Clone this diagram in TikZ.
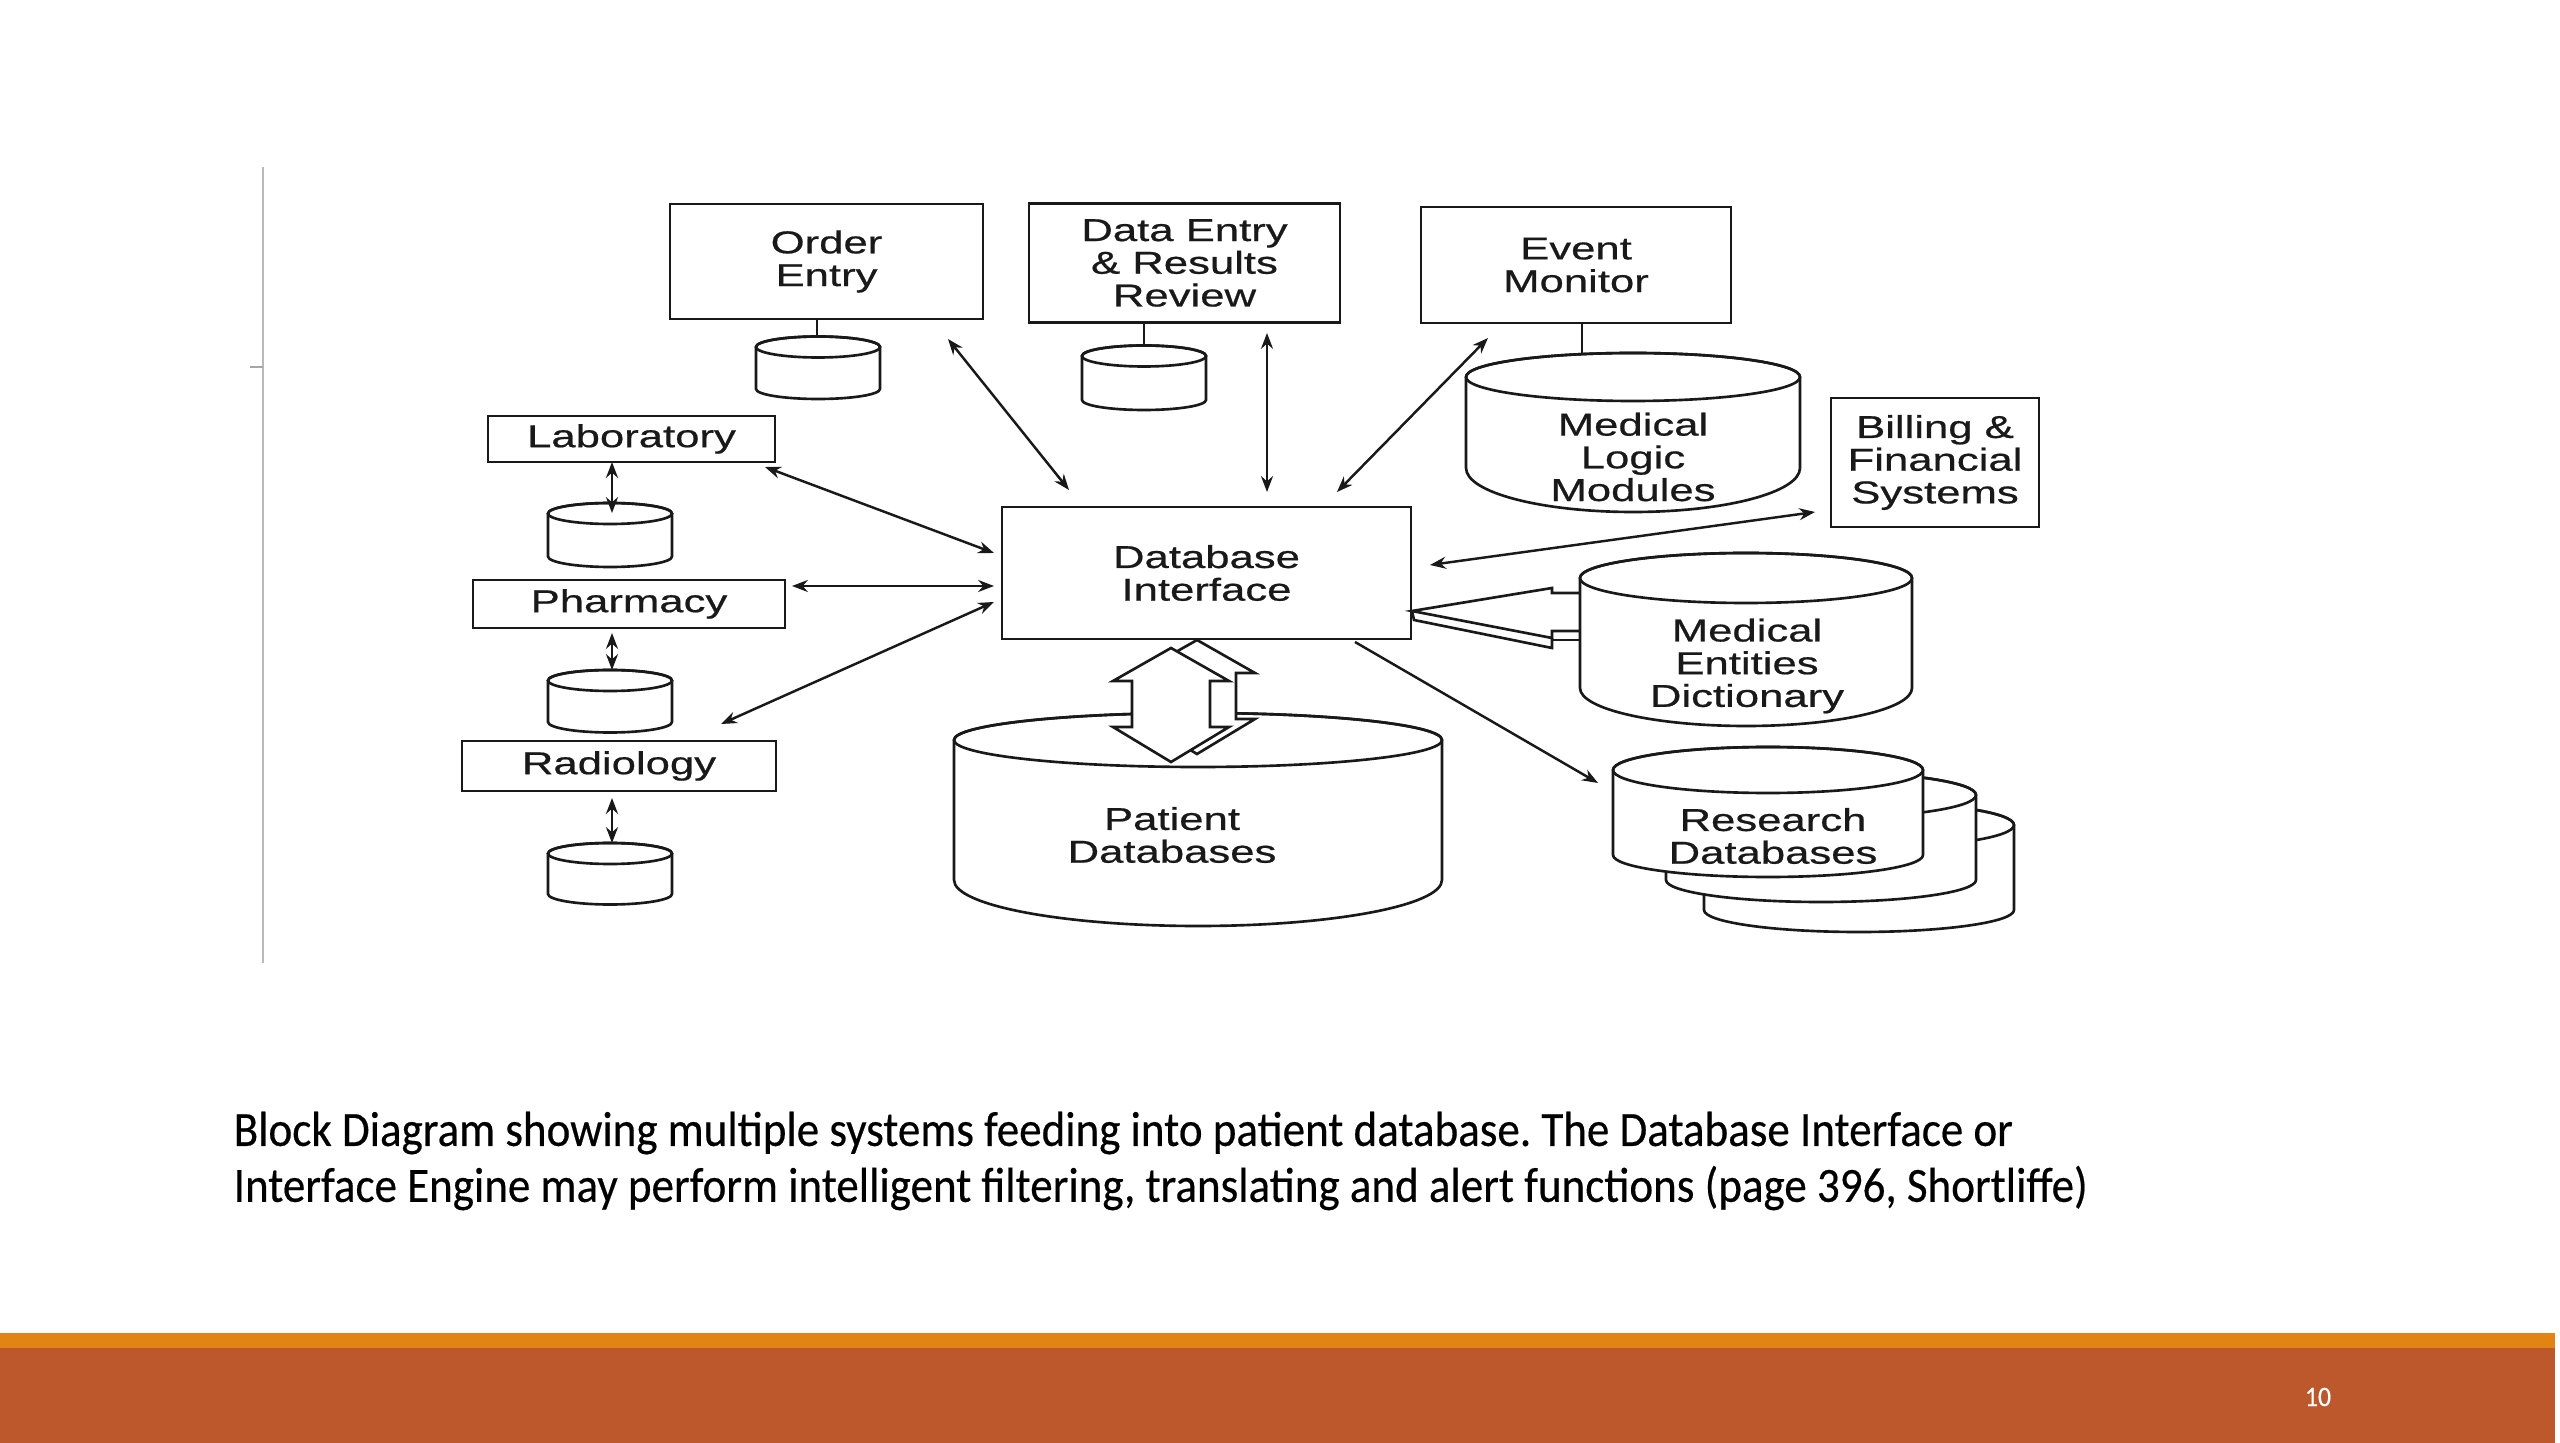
\documentclass[tikz,border=0pt]{standalone}
\usepackage{fontspec}
\setmainfont{Liberation Sans}
\newfontfamily\diagfont[FakeStretch=1.38,FakeBold=0.6]{Liberation Sans}
\newfontfamily\capfont[FakeStretch=0.915,FakeBold=0.4]{Carlito}
\usetikzlibrary{arrows.meta}
\definecolor{barorange}{RGB}{226,131,22}
\definecolor{barrust}{RGB}{189,88,45}
\definecolor{inkc}{RGB}{25,25,25}
% cx, ytop(center of top ellipse, px down), rx, ry(top), y of bottom-arc center, ry(bottom)
\newcommand\dbcyl[6]{%
  \path[fill=white,draw=inkc,line width=0.75pt] (#1-#3,-#2) -- (#1-#3,-#5)
    arc[start angle=180,end angle=360,x radius=#3,y radius=#6] -- (#1+#3,-#2)
    arc[start angle=0,end angle=180,x radius=#3,y radius=#4] -- cycle;
  \draw[inkc,line width=0.75pt] (#1,-#2) ellipse[x radius=#3,y radius=#4];
}
\tikzset{
  box/.style={draw=inkc,line width=0.75pt,fill=white,inner sep=0pt,outer sep=0pt,
    align=center,text=inkc,font=\diagfont\fontsize{9}{9.3}\selectfont},
  lbl/.style={inner sep=0pt,align=center,text=inkc,font=\diagfont\fontsize{9}{9.3}\selectfont},
  tipb/.tip={Stealth[length=4.5pt,width=3.4pt]},
  arr/.style={draw=inkc,line width=0.7pt,tipb-tipb},
  arrone/.style={draw=inkc,line width=0.7pt,-tipb},
  plain/.style={draw=inkc,line width=0.75pt},
  hollow/.style={draw=inkc,line width=0.75pt,fill=white,line join=miter}
}
\begin{document}
\frenchspacing
\begin{tikzpicture}[x=0.01cm,y=0.01cm]
\useasboundingbox (0,0) rectangle (2560,-1443);
\fill[white] (0,0) rectangle (2560,-1443);

% left grey rule
\draw[gray!55,line width=0.6pt] (263,-167) -- (263,-963);
\draw[gray!70,line width=0.6pt] (250,-367) -- (263,-367);

% ---- top boxes
\node[box,minimum width=3.13cm,minimum height=1.15cm] (order) at (826.5,-261.5) {Order\\Entry};
\node[box,minimum width=3.11cm,minimum height=1.19cm] (dataentry) at (1184.5,-263) {Data Entry\\\& Results\\Review};
\node[box,minimum width=3.10cm,minimum height=1.16cm] (event) at (1576,-265) {Event\\Monitor};

% connectors to their stores
\coordinate (ocyl) at (817,-340);
\coordinate (dcyl) at (1144,-348);
\coordinate (ecyl) at (1582,-356);
\draw[plain] (order.south -| ocyl) -- (ocyl);
\draw[plain] (dataentry.south -| dcyl) -- (dcyl);
\draw[plain] (event.south -| ecyl) -- (ecyl);

\dbcyl{818}{347}{62}{10.5}{389}{10}
\dbcyl{1144}{356}{62}{10.5}{400}{10}
\dbcyl{1633}{377}{167}{24}{468}{44}
\node[lbl] (mlm) at (1633,-457) {Medical\\Logic\\Modules};

% ---- left column
\node[box,minimum width=2.87cm,minimum height=0.46cm] (lab) at (631.5,-439) {Laboratory};
\node[box,minimum width=3.12cm,minimum height=0.48cm] (pharm) at (629,-604) {Pharmacy};
\node[box,minimum width=3.14cm,minimum height=0.50cm] (rad) at (619,-766) {Radiology};

\dbcyl{610}{513.5}{62}{10.5}{556.5}{10.5}
\dbcyl{610}{680.5}{62}{10.5}{722}{10.5}
\dbcyl{610}{853.5}{62}{10.5}{894}{10.5}

\coordinate (lcyl) at (612,-513);
\coordinate (pcyltop) at (612,-670);
\coordinate (pboxb) at (612,-633);
\coordinate (rcyltop) at (612,-843);
\coordinate (rboxb) at (612,-798);
\draw[arr] (lab.south -| lcyl) -- (lcyl);
\draw[arr] (pboxb) -- (pcyltop);
\draw[arr] (rboxb) -- (rcyltop);

% ---- Patient databases and double hollow arrow
\dbcyl{1198}{740}{244}{27}{880}{46}
\node[lbl] (patient) at (1172,-835) {Patient\\Databases};

% back (offset) arrow
\draw[hollow] (1197,-640) -- (1255,-673) -- (1236,-673) -- (1236,-719) -- (1255,-719)
  -- (1197,-754) -- (1139,-719) -- (1158,-719) -- (1158,-673) -- (1139,-673) -- cycle;
% front arrow
\draw[hollow] (1171,-648) -- (1229,-681) -- (1210,-681) -- (1210,-727) -- (1229,-727)
  -- (1171,-762) -- (1113,-727) -- (1132,-727) -- (1132,-681) -- (1113,-681) -- cycle;

% ---- Database interface
\node[box,minimum width=4.09cm,minimum height=1.32cm] (dbi) at (1206.5,-573) {Database\\Interface};

% ---- Billing
\node[box,minimum width=2.08cm,minimum height=1.29cm] (billing) at (1935,-462.5) {Billing \&\\Financial\\Systems};

% ---- Medical entities dictionary with hollow arrow
\draw[hollow] (1412,-611) -- (1552,-588) -- (1552,-593) -- (1582,-593) -- (1582,-631)
  -- (1552,-631) -- (1552,-638) -- cycle;
\draw[plain,line join=miter] (1412,-611) -- (1414,-620) -- (1552,-648) -- (1552,-638);
\draw[plain] (1552,-640) -- (1582,-640);
\dbcyl{1746}{578}{166}{25}{688}{38}
\node[lbl] (med) at (1747,-666) {Medical\\Entities\\Dictionary};

% ---- Research databases stack
\dbcyl{1859}{825}{155}{23}{910}{22}
\dbcyl{1821}{795}{155}{23}{880}{22}
\dbcyl{1768}{770}{155}{23}{855}{22}
\node[lbl] (research) at (1773,-836) {Research\\Databases};

% ---- connectors to the database interface
\coordinate (oeA) at (948,-339);   \coordinate (oeB) at (1069,-490);
\coordinate (deA) at (1267,-333);  \coordinate (deB) at (1267,-492);
\coordinate (emA) at (1488,-338);  \coordinate (emB) at (1337,-492);
\coordinate (laA) at (765,-467);   \coordinate (laB) at (994,-553);
\coordinate (phA) at (792,-586);   \coordinate (phB) at (994,-586);
\coordinate (raA) at (721,-724);   \coordinate (raB) at (994,-602);
\coordinate (biA) at (1815,-512);  \coordinate (biB) at (1430,-565);
\coordinate (reA) at (1355,-642);  \coordinate (reB) at (1598,-783);
\draw[arr] (oeA) -- (oeB);
\draw[arr] (deA) -- (deB);
\draw[arr] (emA) -- (emB);
\draw[arr] (laA) -- (laB);
\draw[arr] (phA) -- (phB);
\draw[arr] (raA) -- (raB);
\draw[arr] (biA) -- (biB);
\draw[arrone] (reA) -- (reB);

% ---- caption
\node[anchor=west,align=left,inner sep=0pt,text=black,
  font=\capfont\fontsize{14}{15.9}\selectfont] (caption) at (233,-1161)
  {Block Diagram showing multiple systems feeding into patient database. The Database Interface or\\
   Interface Engine may perform intelligent filtering, translating and alert functions (page 396, Shortliffe)};

% ---- footer bars
\fill[barorange] (0,-1333) rectangle (2555,-1348);
\fill[barrust] (0,-1348) rectangle (2555,-1443);
\node[text=white,inner sep=0pt,font=\capfont\fontsize{8}{9}\selectfont] (pagenum) at (2318,-1397) {10};
\end{tikzpicture}
\end{document}
